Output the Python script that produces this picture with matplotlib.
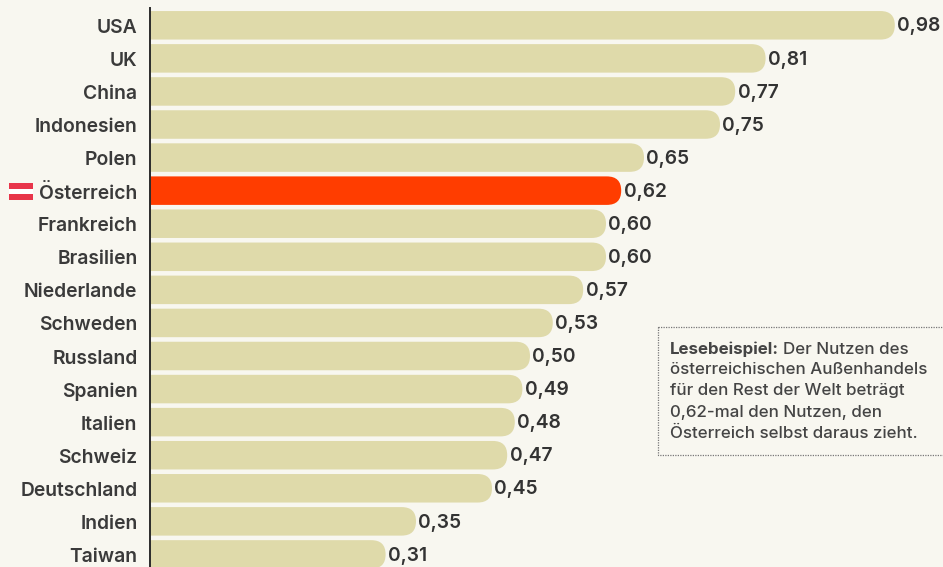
import matplotlib
matplotlib.use('Agg')
import matplotlib.pyplot as plt
from matplotlib.patches import FancyBboxPatch, Rectangle
from matplotlib.transforms import Affine2D

countries = ['USA', 'UK', 'China', 'Indonesien', 'Polen', 'Österreich', 'Frankreich', 'Brasilien',
             'Niederlande', 'Schweden', 'Russland', 'Spanien', 'Italien', 'Schweiz', 'Deutschland',
             'Indien', 'Taiwan']
values = [0.98, 0.81, 0.77, 0.75, 0.65, 0.62, 0.60, 0.60, 0.57, 0.53, 0.50, 0.49, 0.48, 0.47, 0.45, 0.35, 0.31]
highlight = 'Österreich'
note_bold = 'Lesebeispiel:'
note_lines = ['Der Nutzen des', 'österreichischen Außenhandels', 'für den Rest der Welt beträgt',
              '0,62-mal den Nutzen, den', 'Österreich selbst daraus zieht.']

W, H = 943, 567
BG = '#f8f7f0'
BAR = '#dfdaaa'
RED = '#ff3d00'
INK = '#3a3a3a'
FONT = ['Inter', 'DejaVu Sans']

# scale of the picture, pixels per unit and per row
x0 = 150
px_x = 760
y0 = 25.3
px_y = 33.07
bar_h = 28.5 / px_y
radius = 14.25

fig = plt.figure(figsize=(W / 100, H / 100), dpi=100, facecolor=BG)
ax = fig.add_axes([0, 0, 1, 1], facecolor=BG)
ax.set_xlim(-x0 / px_x, (W - x0) / px_x)
ax.set_ylim((H - y0) / px_y, -y0 / px_y)
for name in ['top', 'right', 'bottom']:
    ax.spines[name].set_visible(False)
ax.spines['left'].set_position(('data', 0))
ax.spines['left'].set_bounds((H - y0) / px_y, (8 - y0) / px_y)
ax.spines['left'].set_color('#2b2b2b')
ax.spines['left'].set_linewidth(1.4)
ax.spines['left'].set_zorder(5)

ax.set_yticks(range(len(countries)))
ax.set_yticklabels(countries, family=FONT, fontsize=13.9, fontweight='semibold', color=INK)
ax.set_xticks([])
ax.tick_params(axis='y', length=0, pad=9)
for lab in ax.get_yticklabels():
    lab.set_transform(lab.get_transform() + Affine2D().translate(0, -0.5))

r = radius / px_x
for i, (c, v) in enumerate(zip(countries, values)):
    col = RED if c == highlight else BAR
    box = FancyBboxPatch((-0.05, i - bar_h / 2), v + 0.05, bar_h,
                         boxstyle=f'round,pad=0,rounding_size={r}', mutation_aspect=px_x / px_y,
                         fc=col, ec='none', zorder=2)
    ax.add_patch(box)
    # left end of the bar stays square at the axis
    box.set_clip_path(Rectangle((0, i - 0.5), 2, 1, transform=ax.transData))
    ax.text(v + 2.5 / px_x, i + 0.035, f'{v:.2f}'.replace('.', ','), family=FONT, fontsize=13.8,
            fontweight='semibold', color='#333333', ha='left', va='center')

# helper for things placed in picture pixels, y downwards
px = Affine2D().scale(1 / W, -1 / H).translate(0, 1) + fig.transFigure

# flag next to Österreich
for top, col in [(183, '#e8354a'), (188.7, '#ffffff'), (194.4, '#e8354a')]:
    ax.add_patch(Rectangle((9, top), 24, 5.7, transform=px, fc=col, ec='none', zorder=4, clip_on=False))

# reading example box
ax.add_patch(Rectangle((657.5, 327), 300, 128, transform=px, fc=BG, ec='#777777', lw=0.9,
                       ls=(0, (1, 1)), zorder=3, clip_on=False))
note_y = [349, 370, 391, 413, 433]
fig.canvas.draw()
t = ax.text(670, note_y[0], note_bold, transform=px, family=FONT, fontsize=12.2, fontweight='bold',
            color='#444444', va='center', ha='left', zorder=4)
ext = t.get_window_extent(fig.canvas.get_renderer())
for k, (yy, line) in enumerate(zip(note_y, note_lines)):
    xx = ext.x1 + 4 if k == 0 else 670
    ax.text(xx, yy, line, transform=px, family=FONT, fontsize=12.2, fontweight='medium',
            color='#444444', va='center', ha='left', zorder=4)

fig.savefig('out.png', dpi=100, facecolor=BG)
